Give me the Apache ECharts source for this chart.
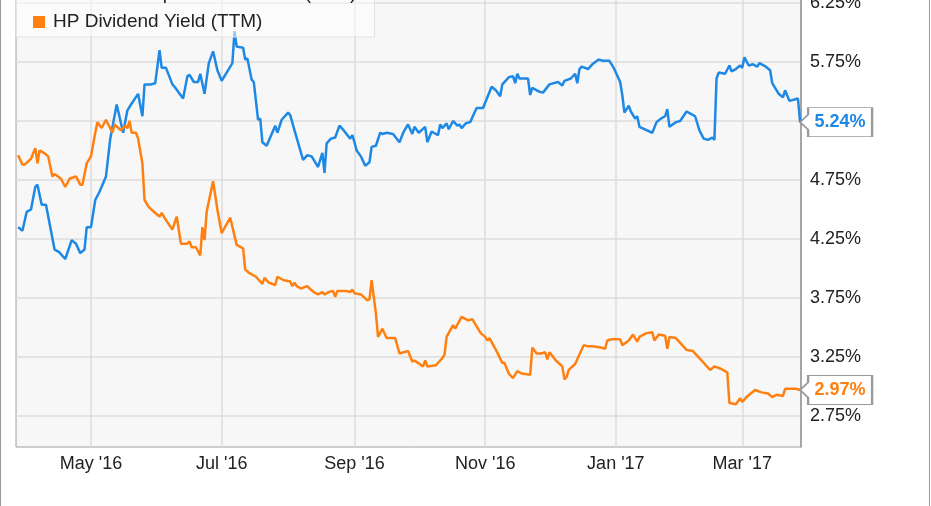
<!DOCTYPE html>
<html><head><meta charset="utf-8">
<script src="https://cdn.jsdelivr.net/npm/echarts@6/dist/echarts.min.js"></script>
<style>html,body{margin:0;padding:0;background:#fff}#c{width:931px;height:506px}</style>
</head><body><div id="c"></div>
<script>
const seriesNames = ['Lenovo Group Dividend Yield (TTM)', 'HP Dividend Yield (TTM)'];
const seriesColors = ['#1e88e5', '#ff8010'];

const lenovoDates = ['2016-03-28','2016-03-30','2016-04-01','2016-04-03','2016-04-05','2016-04-06','2016-04-08','2016-04-10','2016-04-14','2016-04-16','2016-04-19','2016-04-22','2016-04-24','2016-04-26','2016-04-28','2016-04-29','2016-05-01','2016-05-03','2016-05-05','2016-05-08','2016-05-10','2016-05-13','2016-05-15','2016-05-16','2016-05-18','2016-05-19','2016-05-23','2016-05-25','2016-05-26','2016-05-29','2016-05-31','2016-06-02','2016-06-03','2016-06-05','2016-06-08','2016-06-09','2016-06-13','2016-06-15','2016-06-16','2016-06-18','2016-06-20','2016-06-21','2016-06-23','2016-06-25','2016-06-27','2016-06-29','2016-07-01','2016-07-06','2016-07-07','2016-07-08','2016-07-11','2016-07-12','2016-07-13','2016-07-15','2016-07-16','2016-07-18','2016-07-19','2016-07-20','2016-07-22','2016-07-26','2016-07-27','2016-07-29','2016-08-01','2016-08-02','2016-08-04','2016-08-08','2016-08-10','2016-08-12','2016-08-15','2016-08-17','2016-08-18','2016-08-19','2016-08-21','2016-08-23','2016-08-25','2016-08-27','2016-08-30','2016-08-31','2016-09-01','2016-09-02','2016-09-04','2016-09-06','2016-09-08','2016-09-09','2016-09-11','2016-09-13','2016-09-14','2016-09-16','2016-09-19','2016-09-22','2016-09-24','2016-09-26','2016-09-28','2016-09-29','2016-10-01','2016-10-04','2016-10-05','2016-10-07','2016-10-08','2016-10-10','2016-10-11','2016-10-12','2016-10-14','2016-10-15','2016-10-17','2016-10-19','2016-10-20','2016-10-21','2016-10-23','2016-10-25','2016-10-28','2016-10-31','2016-11-04','2016-11-06','2016-11-08','2016-11-09','2016-11-12','2016-11-14','2016-11-15','2016-11-16','2016-11-17','2016-11-21','2016-11-22','2016-11-23','2016-11-26','2016-11-28','2016-12-01','2016-12-05','2016-12-07','2016-12-08','2016-12-11','2016-12-13','2016-12-14','2016-12-15','2016-12-16','2016-12-19','2016-12-21','2016-12-24','2016-12-26','2016-12-29','2016-12-31','2017-01-03','2017-01-04','2017-01-05','2017-01-07','2017-01-08','2017-01-10','2017-01-11','2017-01-12','2017-01-18','2017-01-20','2017-01-22','2017-01-24','2017-01-25','2017-01-26','2017-01-29','2017-01-31','2017-02-03','2017-02-05','2017-02-07','2017-02-09','2017-02-11','2017-02-13','2017-02-15','2017-02-16','2017-02-17','2017-02-18','2017-02-21','2017-02-23','2017-02-24','2017-02-26','2017-02-28','2017-03-01','2017-03-02','2017-03-04','2017-03-06','2017-03-08','2017-03-09','2017-03-12','2017-03-14','2017-03-15','2017-03-18','2017-03-20','2017-03-21','2017-03-23','2017-03-27','2017-03-28'];
const lenovoValues = [4.35,4.32,4.48,4.50,4.69,4.71,4.54,4.54,4.16,4.14,4.08,4.24,4.21,4.13,4.16,4.35,4.35,4.58,4.65,4.78,5.10,5.39,5.23,5.15,5.34,5.37,5.48,5.29,5.56,5.56,5.57,5.85,5.70,5.70,5.56,5.54,5.44,5.63,5.64,5.58,5.58,5.65,5.48,5.74,5.84,5.68,5.59,5.74,6.01,5.88,5.87,5.77,5.78,5.60,5.58,5.26,5.27,5.07,5.04,5.21,5.15,5.26,5.32,5.30,5.17,4.92,4.96,4.95,4.86,4.98,4.81,5.06,5.10,5.11,5.21,5.17,5.10,5.13,5.07,5.00,4.95,4.87,4.90,5.03,5.04,5.15,5.14,5.15,5.14,5.07,5.16,5.22,5.14,5.20,5.15,5.20,5.07,5.16,5.15,5.13,5.22,5.19,5.23,5.18,5.25,5.21,5.22,5.19,5.23,5.24,5.36,5.36,5.54,5.51,5.46,5.56,5.62,5.63,5.57,5.65,5.61,5.61,5.47,5.53,5.50,5.49,5.56,5.58,5.55,5.59,5.61,5.65,5.57,5.69,5.71,5.69,5.73,5.77,5.76,5.76,5.70,5.58,5.47,5.32,5.38,5.33,5.27,5.29,5.20,5.15,5.24,5.27,5.29,5.35,5.20,5.24,5.25,5.33,5.31,5.29,5.17,5.10,5.09,5.11,5.09,5.61,5.66,5.65,5.72,5.67,5.69,5.72,5.70,5.79,5.72,5.73,5.71,5.74,5.71,5.68,5.57,5.48,5.45,5.51,5.42,5.44,5.24];

const hpDates = ['2016-03-28','2016-03-30','2016-03-31','2016-04-03','2016-04-05','2016-04-06','2016-04-07','2016-04-09','2016-04-11','2016-04-13','2016-04-14','2016-04-17','2016-04-19','2016-04-21','2016-04-24','2016-04-26','2016-04-27','2016-04-29','2016-05-01','2016-05-03','2016-05-04','2016-05-06','2016-05-08','2016-05-11','2016-05-12','2016-05-15','2016-05-17','2016-05-18','2016-05-19','2016-05-20','2016-05-22','2016-05-23','2016-05-25','2016-05-26','2016-05-28','2016-05-31','2016-06-02','2016-06-03','2016-06-05','2016-06-08','2016-06-10','2016-06-12','2016-06-15','2016-06-16','2016-06-17','2016-06-19','2016-06-21','2016-06-22','2016-06-23','2016-06-24','2016-06-27','2016-06-29','2016-07-01','2016-07-05','2016-07-08','2016-07-11','2016-07-12','2016-07-14','2016-07-17','2016-07-20','2016-07-21','2016-07-23','2016-07-26','2016-07-27','2016-07-30','2016-08-02','2016-08-03','2016-08-04','2016-08-05','2016-08-07','2016-08-10','2016-08-11','2016-08-13','2016-08-15','2016-08-17','2016-08-18','2016-08-20','2016-08-22','2016-08-23','2016-08-24','2016-08-28','2016-08-30','2016-08-31','2016-09-01','2016-09-04','2016-09-07','2016-09-08','2016-09-09','2016-09-11','2016-09-12','2016-09-14','2016-09-16','2016-09-20','2016-09-22','2016-09-26','2016-09-28','2016-09-29','2016-10-03','2016-10-04','2016-10-05','2016-10-09','2016-10-12','2016-10-13','2016-10-14','2016-10-17','2016-10-18','2016-10-21','2016-10-24','2016-10-26','2016-10-28','2016-10-30','2016-11-01','2016-11-02','2016-11-03','2016-11-06','2016-11-09','2016-11-10','2016-11-12','2016-11-14','2016-11-16','2016-11-18','2016-11-22','2016-11-23','2016-11-25','2016-11-27','2016-11-29','2016-11-30','2016-12-01','2016-12-04','2016-12-07','2016-12-08','2016-12-09','2016-12-10','2016-12-13','2016-12-15','2016-12-17','2016-12-19','2016-12-21','2016-12-25','2016-12-27','2016-12-28','2016-12-30','2017-01-03','2017-01-04','2017-01-07','2017-01-09','2017-01-11','2017-01-12','2017-01-15','2017-01-18','2017-01-19','2017-01-21','2017-01-24','2017-01-25','2017-01-26','2017-01-29','2017-02-01','2017-02-03','2017-02-06','2017-02-09','2017-02-12','2017-02-14','2017-02-16','2017-02-19','2017-02-22','2017-02-23','2017-02-26','2017-02-28','2017-03-01','2017-03-03','2017-03-07','2017-03-10','2017-03-13','2017-03-15','2017-03-17','2017-03-20','2017-03-21','2017-03-23','2017-03-26','2017-03-28'];
const hpValues = [4.96,4.88,4.88,4.93,5.02,4.89,5.00,4.98,4.95,4.78,4.80,4.76,4.69,4.76,4.78,4.71,4.71,4.89,4.95,5.15,5.24,5.19,5.26,5.15,5.22,5.17,5.21,5.19,5.25,5.15,5.15,5.10,4.89,4.58,4.52,4.47,4.44,4.47,4.41,4.33,4.44,4.21,4.21,4.23,4.18,4.18,4.11,4.35,4.24,4.48,4.74,4.50,4.30,4.43,4.20,4.17,3.99,3.96,3.93,3.87,3.92,3.88,3.86,3.93,3.90,3.89,3.85,3.88,3.85,3.83,3.85,3.83,3.80,3.78,3.80,3.78,3.80,3.81,3.76,3.81,3.81,3.80,3.82,3.79,3.78,3.73,3.74,3.90,3.62,3.42,3.49,3.41,3.41,3.28,3.30,3.21,3.22,3.17,3.22,3.17,3.18,3.24,3.27,3.42,3.52,3.49,3.59,3.56,3.57,3.51,3.45,3.42,3.39,3.41,3.31,3.20,3.20,3.11,3.07,3.13,3.11,3.10,3.33,3.28,3.28,3.29,3.23,3.29,3.22,3.17,3.06,3.08,3.14,3.19,3.27,3.35,3.34,3.34,3.33,3.32,3.39,3.40,3.40,3.35,3.39,3.44,3.38,3.42,3.45,3.46,3.39,3.44,3.43,3.32,3.42,3.41,3.35,3.31,3.30,3.24,3.18,3.14,3.17,3.15,3.12,2.86,2.85,2.90,2.87,2.91,2.97,2.95,2.94,2.91,2.93,2.92,2.98,2.98,2.98,2.97];

const yTickValues = [2.75, 3.25, 3.75, 4.25, 4.75, 5.25, 5.75, 6.25];
const xTickDates = ['2016-05-01', '2016-07-01', '2016-09-01', '2016-11-01', '2017-01-01', '2017-03-01'];
const xRange = ['2016-03-27 00:00', '2017-03-28 10:00'];
const yRange = [2.487, 6.292];
const monthNames = ['Jan','Feb','Mar','Apr','May','Jun','Jul','Aug','Sep','Oct','Nov','Dec'];

function ts(s) {
  const parts = s.split(' ');
  const d = parts[0].split('-').map(Number);
  const h = parts[1] ? Number(parts[1].split(':')[0]) : 0;
  return new Date(d[0], d[1] - 1, d[2], h).getTime();
}
function pairs(dates, vals) { return dates.map((d, i) => [ts(d), vals[i]]); }

const FONT = '"Liberation Sans", Arial, sans-serif';
const tagPath = 'path://M0,14.5L8,7L8,0L72,0L72,29L8,29L8,22Z';

function makeSeries(idx, dates, vals) {
  const last = dates.length - 1;
  return {
    name: seriesNames[idx],
    type: 'line',
    data: pairs(dates, vals),
    showSymbol: false,
    symbol: 'none',
    color: seriesColors[idx],
    lineStyle: { width: 2.5, color: seriesColors[idx] },
    z: 3,
    markPoint: {
      symbol: tagPath,
      symbolSize: [72, 29],
      symbolOffset: [36, 0],
      silent: true,
      itemStyle: { color: '#fff', borderColor: '#9a9a9a', borderWidth: 1.5 },
      label: {
        show: true, position: 'inside', offset: [4, 0],
        fontFamily: FONT, fontSize: 18, fontWeight: 'bold', color: seriesColors[idx],
        formatter: p => p.value.toFixed(2) + '%'
      },
      data: [{ coord: [ts(dates[last]), vals[last]], value: vals[last] }]
    }
  };
}

const chart = echarts.init(document.getElementById('c'), null, { renderer: 'canvas' });
chart.setOption({
  animation: false,
  backgroundColor: '#fff',
  textStyle: { fontFamily: FONT },
  grid: {
    left: 16, right: 130, top: -2, bottom: 59,
    show: true, backgroundColor: '#f7f7f7', borderColor: '#a0a0a0', borderWidth: 1,
    containLabel: false, outerBoundsMode: 'none'
  },
  legend: {
    orient: 'vertical', left: 16, top: -21,
    padding: [5, 18, 5, 17],
    itemGap: 8, itemWidth: 12, itemHeight: 12, icon: 'rect',
    backgroundColor: 'rgba(255,255,255,0.55)', borderColor: '#e2e2e2', borderWidth: 1,
    textStyle: { fontFamily: FONT, fontSize: 19, color: '#222', lineHeight: 20, padding: [0, 0, 0, 3] },
    data: seriesNames,
    selectedMode: false
  },
  xAxis: {
    type: 'value',
    min: ts(xRange[0]), max: ts(xRange[1]),
    axisLine: { show: false },
    axisTick: { show: false, customValues: xTickDates.map(ts) },
    axisLabel: {
      customValues: xTickDates.map(ts),
      fontFamily: FONT, fontSize: 18, color: '#222', margin: 8,
      formatter: v => { const d = new Date(v); return monthNames[d.getMonth()] + " '" + String(d.getFullYear()).slice(2); }
    },
    splitLine: { show: true, lineStyle: { color: '#dcdcdc', width: 1.5 } }
  },
  yAxis: {
    type: 'value', position: 'right',
    min: yRange[0], max: yRange[1],
    axisLine: { show: true, lineStyle: { color: '#999', width: 1.5 } },
    axisTick: { show: false, customValues: yTickValues },
    axisLabel: {
      customValues: yTickValues,
      fontFamily: FONT, fontSize: 18, color: '#222', margin: 9,
      formatter: v => v.toFixed(2) + '%'
    },
    splitLine: { show: true, lineStyle: { color: '#dcdcdc', width: 1.5 } }
  },
  graphic: [{
    type: 'rect', silent: true, z: 100,
    shape: { x: 0.5, y: -10, width: 929, height: 530 },
    style: { fill: 'none', stroke: '#9a9a9a', lineWidth: 1 }
  }],
  series: [
    makeSeries(0, lenovoDates, lenovoValues),
    makeSeries(1, hpDates, hpValues)
  ]
});
</script>
</body></html>
